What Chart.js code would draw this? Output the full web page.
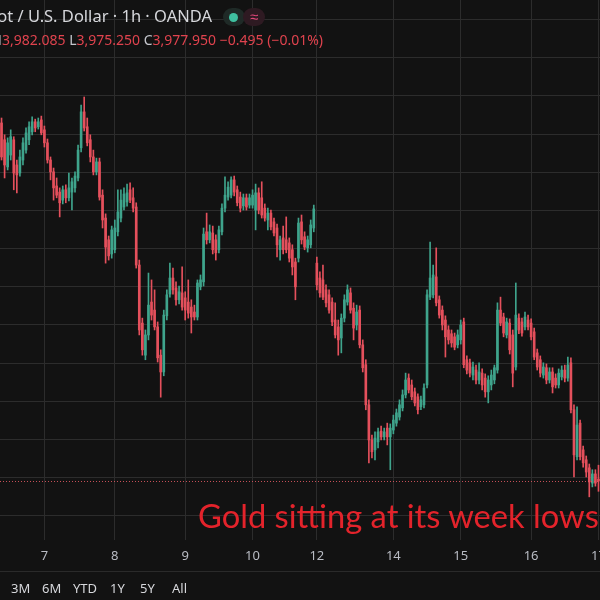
<!DOCTYPE html>
<html>
<head>
<meta charset="utf-8">
<script src="https://cdn.jsdelivr.net/npm/chart.js@4.4.1/dist/chart.umd.min.js"></script>
<style>
  body { margin: 0; width: 600px; height: 600px; overflow: hidden; position: relative; background: #121212; font-family: "Noto Sans", sans-serif; }
  #wrap { position: absolute; left: 0; top: 0; width: 600px; height: 572px; }
  .hdr1 { position: absolute; right: 388px; top: 4px; white-space: nowrap; color: #d6d7db; font-size: 16.5px; }
  .hdr2 { position: absolute; right: 277px; top: 30px; white-space: nowrap; color: #e0434e; font-size: 14px; }
  .hdr2 b { font-weight: normal; color: #c4c6cc; }
  .pill { position: absolute; top: 8px; height: 18px; border-radius: 9px; }
  .dot { position: absolute; width: 9px; height: 9px; border-radius: 50%; background: #3fc0a0; }
  .note { position: absolute; left: 198px; top: 496px; white-space: nowrap; color: #e3232b; font-family: Lato, sans-serif; font-size: 32.7px; }
  .foot { position: absolute; left: 0; top: 571px; width: 600px; height: 29px; border-top: 1px solid #2a2a2a; }
  .foot span { position: absolute; top: 7px; color: #d6d7db; font-size: 13px; }
</style>
</head>
<body>
<div id="wrap"><canvas id="grafik" width="600" height="572"></canvas></div>

<div class="hdr1">Gold Spot / U.S. Dollar · 1h · OANDA</div>
<div class="pill" style="left:223px;width:22px;background:#1f2a27"><div class="dot" style="left:6px;top:5px"></div></div>
<div class="pill" style="left:243px;width:22px;background:#2e1a22;color:#e0487a;font-size:15px;line-height:17px;text-align:center">≈</div>
<div class="hdr2"><b>O</b>3,978.445 <b>H</b>3,982.085 <b>L</b>3,975.250 <b>C</b>3,977.950 −0.495 (−0.01%)</div>

<div class="note">Gold sitting at its week lows</div>

<div class="foot">
  <span style="left:11px">3M</span>
  <span style="left:42px">6M</span>
  <span style="left:73px">YTD</span>
  <span style="left:110px">1Y</span>
  <span style="left:140px">5Y</span>
  <span style="left:172px">All</span>
</div>

<script>
// ======= Data candle 1 jam =======
const opens = [
  4071.7, 4067.3, 4060.2, 4063.3, 4067.3, 4060.7, 4058.6, 4062.0, 4064.6, 4067.3,
  4069.4, 4072.0, 4070.7, 4072.5, 4069.9, 4066.5, 4062.0, 4058.9, 4055.2, 4053.6,
  4051.5, 4054.2, 4052.1, 4053.6, 4054.7, 4057.3, 4065.2, 4074.6, 4070.7, 4067.3,
  4062.8, 4058.9, 4061.5, 4052.8, 4046.8, 4041.1, 4037.4, 4038.5, 4043.2, 4046.8,
  4049.7, 4051.0, 4054.2, 4052.1, 4049.7, 4034.5, 4019.3, 4010.9, 4016.2, 4024.8,
  4022.7, 4018.3, 4010.9, 4006.5, 4021.2, 4026.9, 4031.1, 4028.5, 4025.4, 4027.2,
  4025.9, 4024.8, 4023.5, 4022.2, 4020.9, 4028.8, 4030.1, 4043.2, 4041.1, 4042.9,
  4041.1, 4038.5, 4043.2, 4049.4, 4052.3, 4052.8, 4056.8, 4054.2, 4052.3, 4050.0,
  4052.1, 4050.2, 4050.2, 4048.9, 4053.4, 4052.1, 4049.4, 4046.3, 4048.1, 4045.8,
  4044.2, 4038.5, 4041.6, 4041.1, 4040.3, 4038.5, 4035.3, 4036.3, 4045.8, 4041.9,
  4039.0, 4039.8, 4044.2, 4035.0, 4031.1, 4030.6, 4028.0, 4026.7, 4024.8, 4020.1,
  4018.3, 4015.4, 4020.6, 4024.8, 4027.2, 4023.2, 4018.8, 4022.7, 4013.6, 4008.4,
  3997.9, 3988.7, 3986.1, 3988.2, 3991.0, 3989.5, 3991.8, 3989.5, 3991.3, 3993.1,
  3994.7, 3997.1, 4000.5, 4004.9, 4003.1, 4001.3, 4000.0, 3997.4, 3997.9, 4003.1,
  4026.1, 4026.7, 4031.4, 4025.4, 4022.7, 4020.1, 4017.5, 4016.5, 4015.7, 4013.6,
  4014.9, 4019.6, 4009.7, 4008.9, 4005.7, 4007.0, 4004.4, 4006.2, 4004.9, 4001.3,
  4003.1, 4004.4, 4007.0, 4022.7, 4020.9, 4016.2, 4019.3, 4016.2, 4007.8, 4020.6,
  4019.6, 4018.3, 4020.1, 4019.3, 4017.0, 4011.5, 4009.7, 4005.7, 4007.6, 4004.4,
  4006.5, 4004.9, 4003.1, 4005.2, 4007.0, 4004.9, 4008.9, 3996.6, 3984.3, 3993.1,
  3986.1, 3983.5, 3981.4, 3977.4, 3979.8, 3978.445
];
const highs = [
  4073.0, 4068.6, 4067.8, 4069.9, 4068.1, 4062.0, 4064.6, 4067.8, 4070.4, 4072.0,
  4073.3, 4072.7, 4073.0, 4073.5, 4070.9, 4067.5, 4062.8, 4059.9, 4057.3, 4054.7,
  4055.2, 4055.5, 4058.6, 4057.3, 4058.9, 4065.9, 4076.4, 4078.5, 4073.0, 4068.6,
  4064.6, 4062.5, 4062.5, 4054.2, 4047.9, 4042.1, 4044.7, 4046.3, 4054.2, 4054.2,
  4054.7, 4055.7, 4056.0, 4054.7, 4050.8, 4035.8, 4020.6, 4017.5, 4032.4, 4030.6,
  4028.0, 4019.6, 4012.3, 4022.7, 4028.0, 4035.0, 4033.7, 4030.1, 4029.0, 4034.0,
  4027.5, 4030.6, 4025.4, 4024.0, 4030.6, 4031.9, 4044.2, 4048.1, 4045.0, 4044.7,
  4042.4, 4044.7, 4050.5, 4057.6, 4056.3, 4057.6, 4057.8, 4055.2, 4053.6, 4053.1,
  4053.1, 4053.1, 4054.2, 4055.7, 4054.7, 4056.3, 4050.5, 4049.4, 4048.9, 4046.8,
  4045.2, 4042.1, 4044.7, 4047.1, 4041.6, 4039.8, 4036.3, 4046.8, 4047.6, 4043.2,
  4042.1, 4046.3, 4050.2, 4036.6, 4032.7, 4034.5, 4029.3, 4028.0, 4025.9, 4024.6,
  4020.1, 4021.7, 4026.7, 4029.3, 4028.5, 4024.6, 4024.0, 4023.8, 4014.9, 4009.7,
  3999.2, 3990.0, 3990.8, 3991.8, 3992.3, 3991.8, 3993.1, 3992.9, 3995.2, 3996.8,
  3999.2, 4001.8, 4006.2, 4006.0, 4004.4, 4002.3, 4000.8, 4000.2, 4003.4, 4028.0,
  4040.5, 4034.5, 4039.0, 4026.4, 4023.8, 4021.2, 4018.6, 4017.5, 4016.7, 4017.5,
  4020.1, 4020.6, 4010.7, 4009.9, 4009.1, 4008.3, 4008.9, 4007.3, 4006.0, 4005.5,
  4007.0, 4008.3, 4024.6, 4026.1, 4021.9, 4020.6, 4020.4, 4017.5, 4029.8, 4021.7,
  4020.6, 4022.2, 4021.4, 4020.4, 4018.0, 4012.5, 4010.7, 4008.9, 4008.6, 4007.6,
  4007.6, 4006.0, 4007.3, 4008.1, 4008.3, 4010.4, 4010.2, 3997.9, 3997.4, 3993.9,
  3987.1, 3984.5, 3982.4, 3980.9, 3980.9, 3982.085
];
const lows = [
  4062.0, 4057.3, 4059.4, 4062.0, 4054.2, 4053.4, 4057.8, 4060.7, 4063.8, 4066.0,
  4068.6, 4069.4, 4070.1, 4068.6, 4065.4, 4061.2, 4056.8, 4051.5, 4052.1, 4047.1,
  4050.5, 4050.8, 4051.3, 4048.9, 4053.6, 4056.5, 4064.1, 4069.6, 4065.7, 4061.5,
  4058.1, 4058.1, 4051.5, 4044.2, 4035.0, 4035.8, 4036.3, 4037.7, 4042.1, 4045.8,
  4048.9, 4049.9, 4050.8, 4048.4, 4033.7, 4016.2, 4010.9, 4009.7, 4014.9, 4020.1,
  4017.5, 4009.1, 3999.9, 4005.5, 4020.1, 4026.1, 4026.9, 4024.0, 4024.3, 4022.7,
  4020.1, 4020.6, 4016.7, 4020.1, 4020.1, 4028.0, 4029.0, 4040.0, 4040.3, 4037.4,
  4035.8, 4037.7, 4042.4, 4048.4, 4051.5, 4052.1, 4052.6, 4050.0, 4048.4, 4048.9,
  4048.9, 4049.4, 4049.4, 4043.7, 4047.9, 4046.8, 4046.0, 4043.7, 4043.7, 4042.1,
  4036.6, 4035.8, 4037.4, 4037.7, 4035.3, 4031.9, 4025.4, 4035.3, 4040.0, 4038.5,
  4037.9, 4039.0, 4043.2, 4028.0, 4026.1, 4025.4, 4023.5, 4021.9, 4018.6, 4015.4,
  4010.9, 4011.5, 4019.6, 4024.0, 4021.9, 4014.9, 4017.5, 4012.8, 4006.5, 3996.6,
  3982.7, 3984.0, 3983.5, 3986.6, 3988.7, 3988.7, 3987.4, 3980.9, 3990.3, 3992.3,
  3993.9, 3996.3, 3999.7, 4001.0, 3999.2, 3997.6, 3995.5, 3996.6, 3997.1, 4002.3,
  4025.4, 4025.9, 4023.8, 4020.6, 4017.5, 4010.4, 4013.8, 4013.0, 4012.3, 4012.8,
  4013.8, 4007.6, 4006.0, 4005.2, 4004.4, 4003.4, 4003.4, 4001.8, 3999.9, 3998.4,
  4001.8, 4003.4, 4006.2, 4018.6, 4015.7, 4015.4, 4011.2, 4002.6, 4007.0, 4016.5,
  4015.9, 4017.5, 4017.5, 4014.9, 4009.7, 4007.0, 4005.2, 4004.9, 4003.4, 4003.6,
  4001.0, 4002.3, 4002.3, 4004.4, 4003.9, 4004.1, 3995.8, 3979.0, 3983.5, 3983.5,
  3981.6, 3979.0, 3973.8, 3976.4, 3976.6, 3975.25
];
const closes = [
  4062.8, 4060.7, 4066.5, 4068.1, 4058.6, 4058.1, 4062.8, 4066.5, 4069.1, 4070.7,
  4072.0, 4070.4, 4072.0, 4069.1, 4066.5, 4062.0, 4058.9, 4054.7, 4052.8, 4050.8,
  4054.2, 4052.1, 4054.7, 4056.3, 4057.8, 4064.6, 4074.6, 4070.4, 4066.5, 4062.8,
  4058.9, 4061.5, 4052.3, 4046.3, 4039.2, 4036.9, 4043.7, 4044.2, 4048.4, 4051.5,
  4053.1, 4053.4, 4051.5, 4049.4, 4034.5, 4017.5, 4012.3, 4016.2, 4024.0, 4021.4,
  4018.3, 4010.2, 4006.5, 4021.4, 4026.7, 4031.1, 4028.0, 4025.4, 4027.5, 4023.5,
  4022.7, 4021.9, 4020.9, 4020.9, 4029.8, 4030.6, 4042.6, 4041.1, 4043.2, 4038.5,
  4037.7, 4043.7, 4049.4, 4052.8, 4054.9, 4056.8, 4053.6, 4050.8, 4049.4, 4052.1,
  4049.7, 4052.1, 4052.8, 4053.4, 4048.9, 4047.6, 4046.8, 4048.1, 4044.5, 4042.9,
  4039.8, 4041.1, 4038.5, 4038.5, 4036.3, 4034.0, 4028.8, 4045.5, 4041.1, 4039.2,
  4041.1, 4045.0, 4049.2, 4029.3, 4027.2, 4026.1, 4024.6, 4022.7, 4019.6, 4016.2,
  4014.9, 4020.6, 4025.4, 4028.0, 4022.7, 4018.0, 4022.2, 4013.6, 4007.6, 3997.9,
  3988.7, 3985.6, 3989.2, 3990.8, 3989.5, 3990.8, 3989.5, 3991.8, 3993.9, 3995.8,
  3997.9, 4000.5, 4004.4, 4001.8, 4000.0, 3998.4, 3996.6, 3999.2, 4002.3, 4026.7,
  4031.1, 4031.9, 4024.6, 4021.4, 4018.8, 4015.7, 4014.9, 4014.1, 4013.0, 4016.2,
  4018.8, 4008.4, 4007.0, 4006.2, 4007.8, 4004.4, 4006.5, 4003.1, 4001.3, 4004.4,
  4005.7, 4007.6, 4022.7, 4019.3, 4016.7, 4019.6, 4012.3, 4006.2, 4021.4, 4017.5,
  4016.7, 4020.9, 4018.3, 4015.7, 4010.4, 4007.8, 4006.2, 4007.8, 4004.4, 4006.5,
  4002.6, 4003.1, 4006.2, 4007.0, 4004.9, 4008.3, 3996.6, 3984.8, 3992.6, 3984.3,
  3982.7, 3980.3, 3977.7, 3979.8, 3977.4, 3977.95
];

// ======= Label hari di sumbu x =======
const dayStart = [14, 37, 60, 82, 103, 128, 150, 173, 195];
const dayLabels = ['7', '8', '9', '10', '12', '14', '15', '16', '17'];

// ======= Garis grid harga =======
const priceGrid = [3968.8, 3978.8, 3988.8, 3998.8, 4008.8, 4018.8, 4028.8, 4038.8,
                   4048.8, 4058.8, 4068.8, 4078.8, 4088.8, 4098.8];

const warnaNaik = '#3fa48c';
const warnaTurun = '#e4505c';
const warnaGrid = '#2c2c2c';

const warnaCandle = (ctx) => closes[ctx.dataIndex] >= opens[ctx.dataIndex] ? warnaNaik : warnaTurun;

// Garis putus-putus harga terakhir
const garisHarga = {
    id: 'garisHarga',
    afterDatasetsDraw(chart) {
        const { ctx, chartArea, scales } = chart;
        const y = Math.round(scales.y.getPixelForValue(closes[closes.length - 1])) + 0.5;
        ctx.save();
        ctx.strokeStyle = 'rgba(228, 90, 100, 0.85)';
        ctx.lineWidth = 1;
        ctx.setLineDash([1, 2]);
        ctx.beginPath();
        ctx.moveTo(chartArea.left, y);
        ctx.lineTo(chartArea.right, y);
        ctx.stroke();
        ctx.restore();
    }
};

new Chart(document.getElementById('grafik').getContext('2d'), {
    type: 'bar',
    data: {
        labels: opens.map((_, i) => i),
        datasets: [
            {
                label: 'wick',
                data: lows.map((l, i) => [l, highs[i]]),
                backgroundColor: warnaCandle,
                barThickness: 1,
                grouped: false,
                order: 2
            },
            {
                label: 'body',
                data: opens.map((o, i) => [o, closes[i]]),
                backgroundColor: warnaCandle,
                barThickness: 2,
                minBarLength: 1,
                grouped: false,
                order: 1
            }
        ]
    },
    plugins: [garisHarga],
    options: {
        responsive: false,
        animation: false,
        layout: { padding: 0, autoPadding: false },
        plugins: {
            legend: { display: false },
            tooltip: { enabled: false }
        },
        scales: {
            x: {
                offset: true,
                border: { display: false },
                grid: {
                    offset: false,
                    drawTicks: false,
                    color: (ctx) => dayStart.includes(ctx.index) ? warnaGrid : 'rgba(0,0,0,0)'
                },
                ticks: {
                    autoSkip: false,
                    maxRotation: 0,
                    padding: 8,
                    color: '#b9bcc4',
                    font: { family: 'Noto Sans', size: 13 },
                    callback: (val, idx) => {
                        const k = dayStart.indexOf(idx);
                        return k >= 0 ? dayLabels[k] : '';
                    }
                },
                afterFit: (s) => { s.height = 32; s.paddingLeft = 0; s.paddingRight = 0; }
            },
            y: {
                min: 3962.5,
                max: 4103.9,
                border: { display: false },
                grid: { color: warnaGrid, drawTicks: false },
                ticks: { display: false },
                afterBuildTicks: (s) => { s.ticks = priceGrid.map(v => ({ value: v })); },
                afterFit: (s) => { s.width = 0; s.paddingTop = 0; s.paddingBottom = 0; }
            }
        }
    }
});
</script>
</body>
</html>
